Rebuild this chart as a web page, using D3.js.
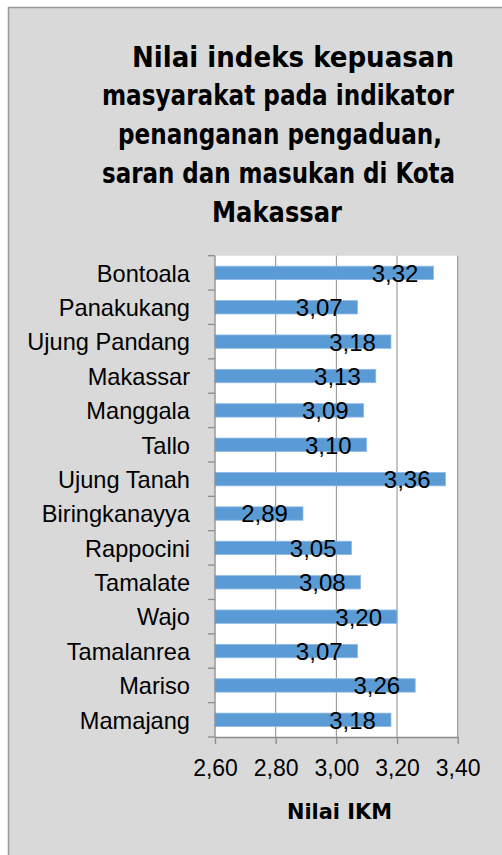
<!DOCTYPE html>
<html>
<head>
<meta charset="utf-8">
<script src="https://cdn.jsdelivr.net/npm/d3@7"></script>
<style>
  html, body { margin: 0; padding: 0; background: #ffffff; }
  svg { display: block; }
</style>
</head>
<body>
<svg id="chart" width="502" height="855"></svg>
<script>
// ---- data ----
const categories = ["Bontoala", "Panakukang", "Ujung Pandang", "Makassar", "Manggala", "Tallo",
  "Ujung Tanah", "Biringkanayya", "Rappocini", "Tamalate", "Wajo", "Tamalanrea", "Mariso", "Mamajang"];
const values = [3.32, 3.07, 3.18, 3.13, 3.09, 3.10, 3.36, 2.89, 3.05, 3.08, 3.20, 3.07, 3.26, 3.18];
const xTicks = [2.6, 2.8, 3.0, 3.2, 3.4];
const titleLines = ["Nilai indeks kepuasan", "masyarakat pada indikator", "penanganan pengaduan,",
  "saran dan masukan di Kota", "Makassar"];
const axisTitle = "Nilai IKM";

// ---- layout ----
const svg = d3.select("#chart");
const plot = { left: 215, right: 457.7, top: 255.7, bottom: 737 };
const labelFont = "Liberation Sans, Arial, sans-serif";
const titleFont = "DejaVu Sans Condensed, DejaVu Sans, sans-serif";

// frame
svg.append("rect").attr("x", 8.5).attr("y", 7.5).attr("width", 502).attr("height", 855)
  .attr("fill", "#d9d9d9").attr("stroke", "#999999").attr("stroke-width", 1.5);

// plot area background
svg.append("rect").attr("x", plot.left).attr("y", plot.top)
  .attr("width", plot.right - plot.left).attr("height", plot.bottom - plot.top)
  .attr("fill", "#ffffff");

const x = d3.scaleLinear().domain([2.6, 3.4]).range([plot.left, plot.right]);
const y = d3.scaleBand().domain(categories).range([plot.top, plot.bottom])
  .paddingInner(0.61).paddingOuter(0.305);

// gridlines
svg.append("g").selectAll("line").data(xTicks.slice(1)).join("line")
  .attr("x1", d => x(d)).attr("x2", d => x(d))
  .attr("y1", plot.top).attr("y2", plot.bottom)
  .attr("stroke", "#8c8c8c").attr("stroke-width", 1);

// bars
svg.append("g").selectAll("rect").data(values).join("rect")
  .attr("x", x(2.6))
  .attr("y", (d, i) => y(categories[i]))
  .attr("width", d => x(d) - x(2.6))
  .attr("height", y.bandwidth())
  .attr("fill", "#5b9bd5")
  .attr("stroke", "#8fbbe6").attr("stroke-width", 0.8);

// value labels
const fmt = v => d3.format(".2f")(v).replace(".", ",");
svg.append("g").selectAll("text").data(values).join("text")
  .attr("x", d => x(d) - 15)
  .attr("y", (d, i) => y(categories[i]) + y.bandwidth() / 2)
  .attr("dy", "0.37em")
  .attr("text-anchor", "end")
  .attr("font-family", labelFont)
  .attr("font-size", 24)
  .attr("fill", "#000")
  .text(d => fmt(d));

// x axis
const xAxis = d3.axisBottom(x).tickValues(xTicks).tickFormat(fmt).tickSizeInner(7).tickSizeOuter(0).tickPadding(16);
const gx = svg.append("g").attr("transform", `translate(0,${plot.bottom})`).call(xAxis);
gx.select(".domain").attr("stroke", "#8c8c8c").attr("stroke-width", 1.3);
gx.selectAll(".tick line").attr("stroke", "#8c8c8c").attr("stroke-width", 1.3);
gx.selectAll(".tick text").attr("font-family", labelFont)
  .attr("font-size", 23).attr("fill", "#000");

// y axis (category) with ticks between categories
svg.append("line").attr("x1", plot.left).attr("x2", plot.left)
  .attr("y1", plot.top).attr("y2", plot.bottom)
  .attr("stroke", "#8c8c8c").attr("stroke-width", 1.3);
const boundaries = categories.map(c => y(c) + y.bandwidth() / 2 - y.step() / 2)
  .concat([y(categories[categories.length - 1]) + y.bandwidth() / 2 + y.step() / 2]);
svg.append("g").selectAll("line").data(boundaries).join("line")
  .attr("x1", plot.left - 7).attr("x2", plot.left)
  .attr("y1", d => d).attr("y2", d => d)
  .attr("stroke", "#8c8c8c").attr("stroke-width", 1.3);

// category labels
svg.append("g").selectAll("text").data(categories).join("text")
  .attr("x", 190)
  .attr("y", d => y(d) + y.bandwidth() / 2)
  .attr("dy", "0.37em")
  .attr("text-anchor", "end")
  .attr("font-family", labelFont)
  .attr("font-size", 23.6)
  .attr("fill", "#000")
  .text(d => d);

// title
const titlePos = [
  { x: 132, w: 322 }, { x: 102, w: 352 }, { x: 118, w: 324 }, { x: 102, w: 353 }, { x: 212, w: 130 }
];
svg.append("g").selectAll("text").data(titleLines).join("text")
  .attr("x", (d, i) => titlePos[i].x)
  .attr("y", (d, i) => 66.5 + i * 38.8)
  .attr("textLength", (d, i) => titlePos[i].w)
  .attr("lengthAdjust", "spacingAndGlyphs")
  .attr("font-family", titleFont)
  .attr("font-weight", "bold")
  .attr("font-size", 29)
  .attr("fill", "#000")
  .text(d => d);

// axis title
svg.append("text")
  .attr("x", 287).attr("y", 819)
  .attr("textLength", 105)
  .attr("lengthAdjust", "spacingAndGlyphs")
  .attr("font-family", titleFont)
  .attr("font-weight", "bold")
  .attr("font-size", 22)
  .attr("fill", "#000")
  .text(axisTitle);
</script>
</body>
</html>
